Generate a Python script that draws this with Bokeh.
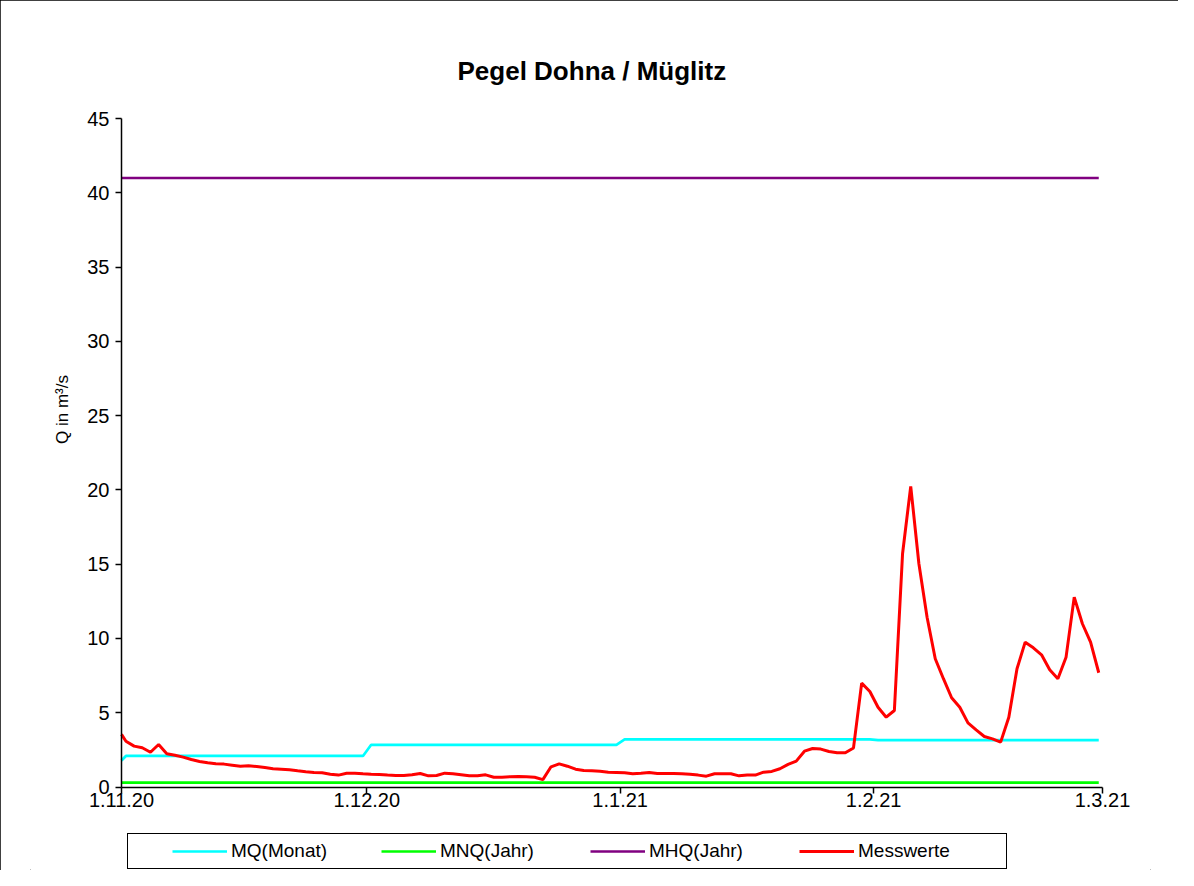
import numpy as np
import pandas as pd
from bokeh.plotting import figure
from bokeh.models import Legend, LegendItem, FixedTicker, Range1d, Title, Label
from bokeh.embed import file_html
from bokeh.resources import INLINE

# ---------------- data ----------------
# first reading 01.11.2020 00:00, then daily readings (~13:00) up to 28.02.2021
dates = pd.DatetimeIndex(["2020-11-01 00:00"]).append(
    pd.date_range("2020-11-01 13:00", "2021-02-28 13:00", freq="D"))

messwerte = [
    3.54,  # 01.11. 00:00
    # November
    3.08, 2.75, 2.64, 2.34, 2.86, 2.24, 2.14, 2.01, 1.85, 1.72,
    1.63, 1.56, 1.54, 1.47, 1.40, 1.43, 1.38, 1.31, 1.23, 1.20,
    1.16, 1.09, 1.03, 0.98, 0.96, 0.86, 0.80, 0.93, 0.93, 0.89,
    # December
    0.86, 0.84, 0.80, 0.77, 0.77, 0.82, 0.91, 0.75, 0.77, 0.93,
    0.89, 0.82, 0.75, 0.75, 0.82, 0.66, 0.66, 0.69, 0.71, 0.69,
    0.66, 0.50, 1.36, 1.56, 1.40, 1.20, 1.11, 1.09, 1.06, 1.00,
    0.98,
    # January
    0.96, 0.89, 0.93, 0.98, 0.91, 0.91, 0.91, 0.89, 0.86, 0.80,
    0.73, 0.89, 0.89, 0.89, 0.75, 0.80, 0.80, 1.00, 1.05, 1.23,
    1.52, 1.74, 2.41, 2.59, 2.55, 2.39, 2.30, 2.30, 2.63, 6.99,
    6.43,
    # February
    5.37, 4.70, 5.15, 15.70, 20.24, 15.03, 11.43, 8.63, 7.29, 6.01,
    5.37, 4.32, 3.85, 3.40, 3.24, 3.02, 4.70, 7.96, 9.75, 9.37,
    8.90, 7.89, 7.29, 8.74, 12.78, 10.99, 9.75, 7.69,
]

# monthly mean discharge MQ(Monat); first reading still carries the October value
mq_first = 1.78
mq_months = ["2020-11", "2020-12", "2021-01", "2021-02"]
mq_values = [2.09, 2.84, 3.20, 3.16]
mnq_jahr = 0.30
mhq_jahr = 41.0

tick_dates = ["2020-11-01", "2020-12-01", "2021-01-01", "2021-02-01", "2021-03-01"]
tick_labels = ["1.11.20", "1.12.20", "1.1.21", "1.2.21", "1.3.21"]
y_ticks = [0, 5, 10, 15, 20, 25, 30, 35, 40, 45]

# ---------------- derived ----------------
origin = pd.Timestamp("2020-11-01")
x = ((dates - origin) / pd.Timedelta(days=1)).to_numpy()
mq_map = dict(zip(mq_months, mq_values))
mq = [mq_first] + [mq_map[d.strftime("%Y-%m")] for d in dates[1:]]
mnq = [mnq_jahr] * len(dates)
mhq = [mhq_jahr] * len(dates)
tick_pos = [float((pd.Timestamp(t) - origin) / pd.Timedelta(days=1)) for t in tick_dates]

FONT = "Liberation Sans"

# layout (pixels inside the 1178x870 figure)
W, H = 1178, 870
AX_LEFT, AX_RIGHT = 121, 1102            # x of 1.11.20 and 1.3.21
AX_TOP, AX_ZERO = 118, 786.5             # y of 45 and 0
FRAME_LEFT, FRAME_RIGHT = 30, 1150       # frame extends so axis texts are not clipped
FRAME_TOP, FRAME_BOTTOM = 95, 870
x_span = tick_pos[-1] - tick_pos[0]
px_per_day = (AX_RIGHT - AX_LEFT) / x_span
x_lo = tick_pos[0] - (AX_LEFT - FRAME_LEFT) / px_per_day
x_hi = tick_pos[-1] + (FRAME_RIGHT - AX_RIGHT) / px_per_day
y_max = y_ticks[-1]
px_per_unit = (AX_ZERO - AX_TOP) / y_max
y_lo = -(FRAME_BOTTOM - AX_ZERO) / px_per_unit
y_hi = y_max + (AX_TOP - FRAME_TOP) / px_per_unit

p = figure(width=W, height=H, output_backend="svg", toolbar_location=None,
           x_range=Range1d(x_lo, x_hi), y_range=Range1d(y_lo, y_hi),
           min_border_left=FRAME_LEFT, min_border_right=W - FRAME_RIGHT,
           min_border_top=FRAME_TOP, min_border_bottom=H - FRAME_BOTTOM)
p.styles = {"outline": "1px solid black", "outline-offset": "-1px"}
p.outline_line_color = None
p.xgrid.visible = False
p.ygrid.visible = False
p.background_fill_color = "white"
p.border_fill_color = "white"

t = Title(text="Pegel Dohna / Müglitz", align="left", text_font=FONT,
          text_font_size="26px", text_font_style="bold", text_color="black",
          offset=336 + AX_LEFT - FRAME_LEFT, standoff=20)
p.add_layout(t, "above")

r_mq = p.line(x, mq, line_color="#00FFFF", line_width=2.7)
r_mnq = p.line(x, mnq, line_color="#00FF00", line_width=2.7)
r_mhq = p.line(x, mhq, line_color="#800080", line_width=2.5)
r_mw = p.line(x, messwerte, line_color="#FF0000", line_width=3)

# axes (fixed at the data origin so the frame can hold their texts)
p.xaxis.ticker = FixedTicker(ticks=tick_pos)
p.xaxis.major_label_overrides = {tp: lab for tp, lab in zip(tick_pos, tick_labels)}
p.xaxis.fixed_location = 0
p.xaxis.bounds = (tick_pos[0], tick_pos[-1])
p.yaxis.ticker = FixedTicker(ticks=y_ticks)
p.yaxis.fixed_location = tick_pos[0]
p.yaxis.bounds = (0, y_max)
for ax in (p.xaxis, p.yaxis):
    ax.axis_line_color = "black"
    ax.axis_line_width = 1.5
    ax.major_tick_line_color = "black"
    ax.major_tick_line_width = 1.5
    ax.major_tick_in = 0
    ax.major_tick_out = 6
    ax.minor_tick_line_color = None
    ax.major_label_text_font = FONT
    ax.major_label_text_font_size = "20px"
    ax.major_label_text_color = "black"
p.xaxis.major_label_standoff = 0
p.yaxis.major_label_standoff = 6

# y-axis title, placed left of the tick labels
ylab = Label(x=tick_pos[0], y=(AX_ZERO - 409) / px_per_unit, x_offset=-59,
             text="Q in m³/s", angle=np.pi / 2, text_align="center",
             text_baseline="middle", text_font=FONT, text_font_size="17px",
             text_color="black")
p.add_layout(ylab)

legend = Legend(items=[
    LegendItem(label="MQ(Monat)", renderers=[r_mq]),
    LegendItem(label="MNQ(Jahr)", renderers=[r_mnq]),
    LegendItem(label="MHQ(Jahr)", renderers=[r_mhq]),
    LegendItem(label="Messwerte", renderers=[r_mw]),
], orientation="horizontal", location=(127 - FRAME_LEFT, 1), margin=0, padding=6,
    title=" ", title_location="left", title_standoff=16,
    glyph_width=55, label_standoff=4, label_width=142, spacing=8,
    border_line_color="black", border_line_width=1.5, border_line_alpha=1,
    background_fill_color="white", background_fill_alpha=1,
    label_text_font=FONT, label_text_font_size="19px", label_text_color="black",
    title_text_font=FONT, title_text_font_size="19px")
p.add_layout(legend)

open("out.html", "w").write(file_html(p, INLINE))
